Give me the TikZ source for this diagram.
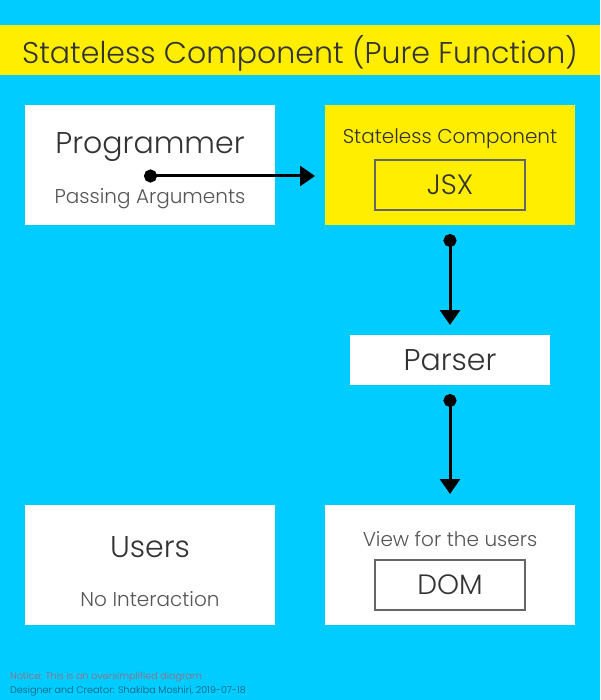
\documentclass[tikz,border=0pt]{standalone}
\usepackage{fontspec}
\setmainfont{Poppins}[UprightFont={* Light}]
\usetikzlibrary{arrows.meta,positioning}
\definecolor{skyc}{HTML}{00CCFF}
\definecolor{sunc}{HTML}{FFEE00}
\definecolor{inkc}{HTML}{333333}
\definecolor{subc}{HTML}{555555}
\definecolor{notec}{HTML}{A8607A}
\definecolor{signc}{HTML}{1A5A78}
\tikzset{
	card/.style={rectangle,fill=white,minimum width=250pt,minimum height=120pt,inner sep=0pt},
	inbox/.style={rectangle,draw=black!60,line width=1.3pt,minimum width=150pt,minimum height=50pt,inner sep=0pt},
	big/.style={text=inkc,font=\fontsize{30}{34}\selectfont},
	mid/.style={text=inkc,font=\fontsize{28}{32}\selectfont},
	small/.style={text=subc,font=\fontsize{20}{24}\selectfont},
	flow/.style={line width=3pt,{Circle[length=13pt]}-{Triangle[width=20pt,length=15pt]}}
}
\begin{document}
\begin{tikzpicture}[x=1pt,y=-1pt]
\fill[skyc] (0,0) rectangle (600,700);
\useasboundingbox (0,0) rectangle (600,700);
\fill[sunc] (0,25) rectangle (600,75);
\node (title) [text=inkc,font=\fontsize{30}{34}\selectfont] at (300,53) {Stateless Component (Pure Function)};

\node (prog) [card] at (150,165) {};
\node (progt) [big] at (150,147) {Programmer};
\node (progs) [small] at (150,199) {Passing Arguments};

\node (comp) [card,fill=sunc] at (450,165) {};
\node (compt) [small,text=inkc] at (450,139) {Stateless Component};
\node (jsx) [inbox,mid] at (450,185) {JSX};

\node (parser) [card,minimum width=200pt,minimum height=50pt,big] at (450,360) {Parser};

\node (users) [card] at (150,565) {};
\node (userst) [big] at (150,547) {Users};
\node (userss) [small] at (150,599) {No Interaction};

\node (view) [card] at (450,565) {};
\node (viewt) [small] at (450,539) {View for the users};
\node (dom) [inbox,mid] at (450,585) {DOM};

\coordinate (a1) at (144,176);
\coordinate (a2) at (315,176);
\coordinate (b1) at (450,234);
\coordinate (b2) at (450,325);
\coordinate (c1) at (450,394);
\coordinate (c2) at (450,494);
\draw[flow] (a1) -- (a2);
\draw[flow] (b1) -- (b2);
\draw[flow] (c1) -- (c2);

\node (note) [anchor=west,inner sep=0pt,text=notec,font=\fontsize{9.6}{11}\selectfont] at (10,677) {Notice: This is an oversimplified diagram};
\node (sign) [anchor=west,inner sep=0pt,text=signc,font=\fontsize{9.6}{11}\selectfont] at (10,691) {Designer and Creator: Shakiba Moshiri, 2019-07-18};
\end{tikzpicture}
\end{document}
